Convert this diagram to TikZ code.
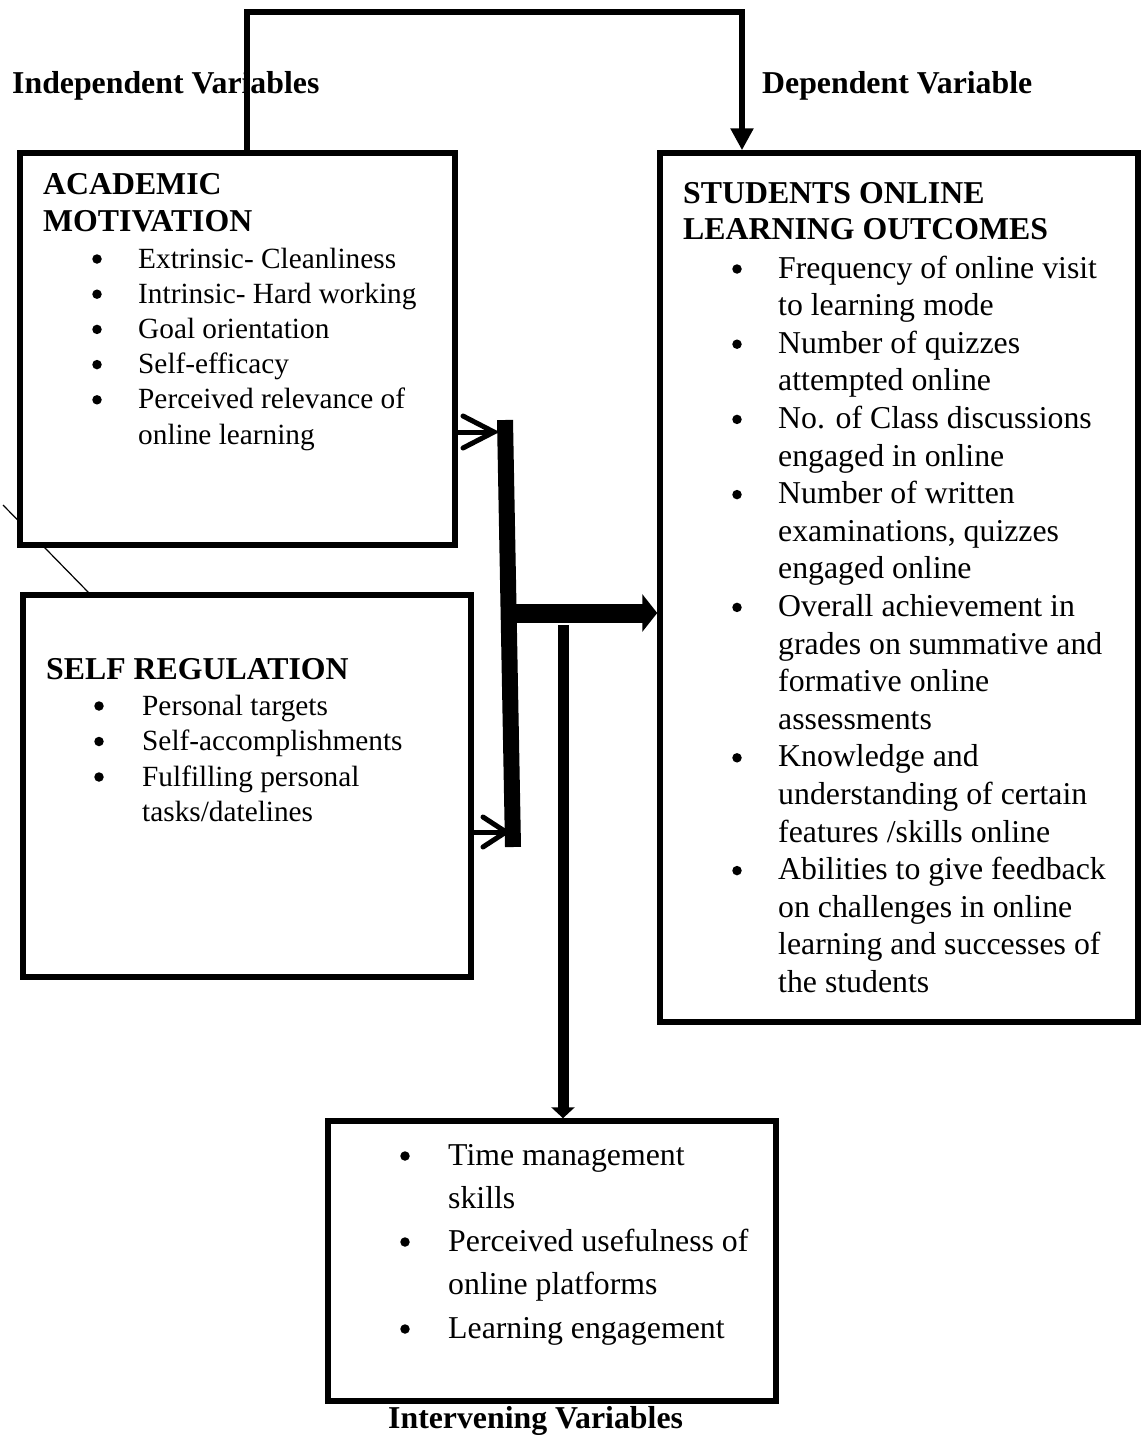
\documentclass[tikz,border=0pt]{standalone}
\usepackage{fontspec}
\setmainfont{Liberation Serif}
\usetikzlibrary{arrows.meta}
\newcommand\fa{\fontsize{29.3}{35}\selectfont}
\newcommand\fb{\fontsize{31.8}{38}\selectfont}
\newcommand\fh{\fontsize{31.8}{37}\selectfont\bfseries}
\newcommand\TLine[4]{\node[txt,font=#1] (#2) at (#3) {#4};}
\newcommand\BulPt[3]{\node[bul] (#2) at ([yshift=9pt]#3) {};}
\begin{document}
\begin{tikzpicture}[x=1pt,y=-1pt,
  box/.style={draw, line width=5.5pt, fill=white, inner sep=0pt},
  txt/.style={anchor=base west, inner sep=0pt},
  bul/.style={circle, fill=black, inner sep=0pt, minimum size=9.5pt},
  conn/.style={line width=6.5pt},
  thin/.style={line width=1.2pt}]
\useasboundingbox (0,0) rectangle (1144,1437);

% outer labels
\TLine{\fh}{lindep}{12,93}{Independent Variables}
\TLine{\fh}{ldep}{762,93}{Dependent Variable}
\TLine{\fh}{linter}{388,1428}{Intervening Variables}

% thin diagonal line (behind boxes)
\coordinate (d1) at (3,505);
\coordinate (d2) at (89,593);
\draw[thin] (d1) -- (d2);

% boxes
\node[box, minimum width=435pt, minimum height=392pt] (am) at (237.5,349) {};
\node[box, minimum width=448pt, minimum height=382pt] (sr) at (247,786) {};
\node[box, minimum width=478pt, minimum height=869pt] (so) at (899,587.5) {};
\node[box, minimum width=448pt, minimum height=280pt] (iv) at (552,1261) {};

% top connector
\coordinate (tl) at (247,12);
\coordinate (tr) at (742,12);
\draw[conn, -{Triangle[length=22pt,width=22pt]}] (am.north -| tl) -- (tl) -- (tr) -- (so.north -| tr);

% thick junction bar
\coordinate (bt) at (505,420);
\coordinate (bb) at (513,847);
\draw[line width=16pt] (bt) -- (bb);

% small arrows into the bar
\coordinate (a1) at (494,432);
\draw[line width=5pt] (am.east |- a1) -- (a1);
\draw[line width=5pt, line cap=round] (a1) ++(-31,-16) -- (a1) -- ++(-31,16);
\coordinate (a2) at (506,832);
\draw[line width=5pt] (sr.east |- a2) -- (a2);
\draw[line width=5pt, line cap=round] (a2) ++(-23,-15) -- (a2) -- ++(-23,15);

% thick arrow to outcomes
\coordinate (hj) at (509,613);
\draw[line width=19pt, -{Triangle[length=15pt,width=37pt]}] (hj) -- (hj -| so.west);

% arrow down to intervening variables
\coordinate (vt) at (563,625);
\draw[line width=11pt, -{Triangle[length=11pt,width=23pt]}] (vt) -- (vt |- iv.north);

% ACADEMIC MOTIVATION
\TLine{\fh}{amh1}{43,194}{ACADEMIC}
\TLine{\fh}{amh2}{43,231}{MOTIVATION}
\BulPt{\fa}{amb1}{97,268}
\TLine{\fa}{amt1}{138,268}{Extrinsic- Cleanliness}
\BulPt{\fa}{amb2}{97,303.2}
\TLine{\fa}{amt2}{138,303.2}{Intrinsic- Hard working}
\BulPt{\fa}{amb3}{97,338.4}
\TLine{\fa}{amt3}{138,338.4}{Goal orientation}
\BulPt{\fa}{amb4}{97,373.6}
\TLine{\fa}{amt4}{138,373.6}{Self-efficacy}
\BulPt{\fa}{amb5}{97,408.8}
\TLine{\fa}{amt5}{138,408.8}{Perceived relevance of}
\TLine{\fa}{amt6}{138,444}{online learning}

% SELF REGULATION
\TLine{\fh}{srh}{46,679}{SELF REGULATION}
\BulPt{\fa}{srb1}{99,715}
\TLine{\fa}{srt1}{142,715}{Personal targets}
\BulPt{\fa}{srb2}{99,750.5}
\TLine{\fa}{srt2}{142,750.5}{Self-accomplishments}
\BulPt{\fa}{srb3}{99,786}
\TLine{\fa}{srt3}{142,786}{Fulfilling personal}
\TLine{\fa}{srt4}{142,821}{tasks/datelines}

% STUDENTS ONLINE LEARNING OUTCOMES
\TLine{\fh}{soh1}{683,203}{STUDENTS ONLINE}
\TLine{\fh}{soh2}{683,239}{LEARNING OUTCOMES}
\BulPt{\fb}{sob1}{737,278}
\TLine{\fb}{sot1}{778,278}{Frequency of online visit}
\TLine{\fb}{sot2}{778,315.6}{to learning mode}
\BulPt{\fb}{sob2}{737,353.2}
\TLine{\fb}{sot3}{778,353.2}{Number of quizzes}
\TLine{\fb}{sot4}{778,390.8}{attempted online}
\BulPt{\fb}{sob3}{737,428.4}
\TLine{\fb}{sot5}{778,428.4}{No. of Class discussions}
\TLine{\fb}{sot6}{778,466}{engaged in online}
\BulPt{\fb}{sob4}{737,503.6}
\TLine{\fb}{sot7}{778,503.6}{Number of written}
\TLine{\fb}{sot8}{778,541.2}{examinations, quizzes}
\TLine{\fb}{sot9}{778,578.8}{engaged online}
\BulPt{\fb}{sob5}{737,616.4}
\TLine{\fb}{sot10}{778,616.4}{Overall achievement in}
\TLine{\fb}{sot11}{778,654}{grades on summative and}
\TLine{\fb}{sot12}{778,691.6}{formative online}
\TLine{\fb}{sot13}{778,729.2}{assessments}
\BulPt{\fb}{sob6}{737,766.8}
\TLine{\fb}{sot14}{778,766.8}{Knowledge and}
\TLine{\fb}{sot15}{778,804.4}{understanding of certain}
\TLine{\fb}{sot16}{778,842}{features /skills online}
\BulPt{\fb}{sob7}{737,879.6}
\TLine{\fb}{sot17}{778,879.6}{Abilities to give feedback}
\TLine{\fb}{sot18}{778,917.2}{on challenges in online}
\TLine{\fb}{sot19}{778,954.8}{learning and successes of}
\TLine{\fb}{sot20}{778,992.4}{the students}

% INTERVENING
\BulPt{\fb}{ivb1}{405,1165}
\TLine{\fb}{ivt1}{448,1165}{Time management}
\TLine{\fb}{ivt2}{448,1208}{skills}
\BulPt{\fb}{ivb2}{405,1251}
\TLine{\fb}{ivt3}{448,1251}{Perceived usefulness of}
\TLine{\fb}{ivt4}{448,1294}{online platforms}
\BulPt{\fb}{ivb3}{405,1338}
\TLine{\fb}{ivt5}{448,1338}{Learning engagement}
\end{tikzpicture}
\end{document}
